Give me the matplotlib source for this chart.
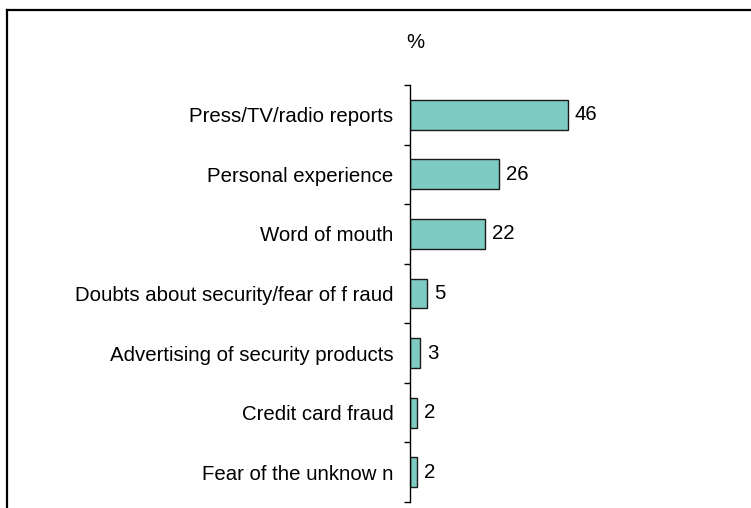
import matplotlib.pyplot as plt
from matplotlib.lines import Line2D

categories = [
    "Press/TV/radio reports",
    "Personal experience",
    "Word of mouth",
    "Doubts about security/fear of f raud",
    "Advertising of security products",
    "Credit card fraud",
    "Fear of the unknow n",
]
values = [46, 26, 22, 5, 3, 2, 2]

plt.rcParams['font.family'] = ['Liberation Sans', 'DejaVu Sans']
FS = 14.7

W, H = 751, 508
fig = plt.figure(figsize=(W / 100, H / 100), dpi=100)
ax = fig.add_axes([410 / W, 1 - 502 / H, 331 / W, (502 - 85) / H])

pos = list(range(len(categories)))
ax.barh(pos, values, height=0.5, color='#7ecbc3', edgecolor='#1a1a1a', linewidth=1)
for y, v in zip(pos, values):
    ax.text(v + 2, y, str(v), va='center', ha='left', fontsize=FS)

ax.set_xlim(0, 96.5)
ax.set_ylim(len(categories) - 0.5, -0.5)

# boundary ticks on the axis, labels centred on the bars
ax.set_yticks([p - 0.5 for p in pos] + [len(categories) - 0.5])
ax.set_yticklabels([])
ax.tick_params(axis='y', which='major', length=4, width=1, direction='out')
ax.set_yticks(pos, minor=True)
ax.set_yticklabels(categories, minor=True, fontsize=FS)
ax.tick_params(axis='y', which='minor', length=0, pad=12)

ax.set_xticks([])
for side in ['top', 'right', 'bottom']:
    ax.spines[side].set_visible(False)
ax.spines['left'].set_linewidth(1)

fig.text(415 / W, 1 - 43 / H, '%', ha='center', va='center', fontsize=FS)

# outer frame (top and left edges)
fig.add_artist(Line2D([7 / W, 1], [1 - 10 / H, 1 - 10 / H], color='black', lw=1.6))
fig.add_artist(Line2D([7 / W, 7 / W], [0, 1 - 10 / H], color='black', lw=1.6))

fig.savefig('out.png', dpi=100)
